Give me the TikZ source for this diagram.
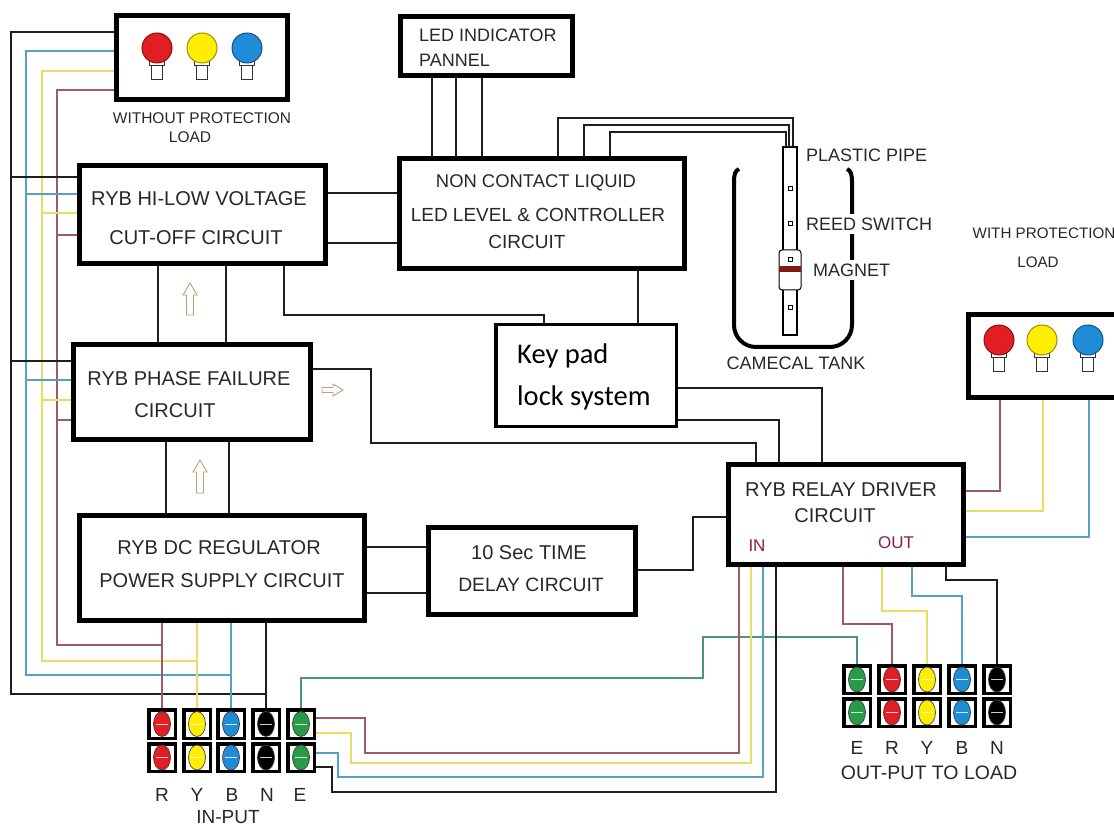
\documentclass[tikz,border=0pt]{standalone}
\usepackage{fontspec}
\setmainfont{Liberation Sans}
\newfontfamily\kpfont{Carlito}
\definecolor{tcol}{RGB}{40,40,40}
\definecolor{wred}{RGB}{160,90,100}
\definecolor{wyel}{RGB}{232,222,100}
\definecolor{wcyan}{RGB}{85,160,195}
\definecolor{wgreen}{RGB}{75,150,120}
\definecolor{wblk}{RGB}{30,30,30}
\definecolor{bred}{RGB}{225,30,35}
\definecolor{byel}{RGB}{255,238,0}
\definecolor{bblue}{RGB}{30,140,215}
\definecolor{tgreen}{RGB}{40,155,70}
\definecolor{arrcol}{RGB}{185,160,120}
\definecolor{magcol}{RGB}{130,25,25}
\definecolor{iocol}{RGB}{140,30,75}
\newcommand{\myfs}[1]{\fontsize{#1}{#1}\selectfont}
\newcommand{\bulb}[3]{%
  \draw[fill=white,draw=black!80,line width=0.8pt] ({#1-5.5},{#2+14}) rectangle ({#1+5.5},{#2+31});
  \draw[fill=white,draw=black!80,line width=0.8pt] ({#1-7.5},{#2+12}) rectangle ({#1+7.5},{#2+17});
  \draw[fill=#3,draw=#3!60!black,line width=1pt] (#1,#2) circle (15);}
\newcommand{\term}[4]{%
  \fill[black] ({#1-15},{#2-#4}) rectangle ({#1+15},{#2+#4});
  \fill[white] ({#1-11.5},{#2-#4+3.5}) rectangle ({#1+11.5},{#2+#4-3.5});
  \draw[fill=#3,draw=black!75,line width=0.7pt] (#1,#2) ellipse (8.5 and 12.5);
  \draw[white!80!#3,line width=0.9pt] ({#1-6},#2) -- ({#1+6},#2);}
\newcommand{\uparr}[3]{%
  \draw[arrcol,line width=0.9pt,fill=white] (#1,#2) -- ({#1+7},{#2+12}) -- ({#1+3.5},{#2+12}) -- ({#1+3.5},#3) -- ({#1-3.5},#3) -- ({#1-3.5},{#2+12}) -- ({#1-7},{#2+12}) -- cycle;}
\begin{document}
\begin{tikzpicture}[x=1pt,y=-1pt,
  box/.style={draw=black,line width=5pt,fill=white,rectangle,inner sep=0pt},
  lbl/.style={inner sep=0pt,text=tcol,font=\myfs{20}},
  slbl/.style={inner sep=0pt,text=tcol,font=\myfs{18}},
  tlbl/.style={inner sep=0pt,text=tcol,font=\myfs{15.5}},
  iolbl/.style={inner sep=0pt,text=iocol,font=\myfs{17}},
  wire/.style={line width=1.4pt}]
\useasboundingbox (0,0) rectangle (1114,826);
\fill[white] (0,0) rectangle (1114,826);

% ---------- boxes ----------
\node[box,minimum width=171,minimum height=84] (wpl) at (202,57.5) {};
\node[box,minimum width=172,minimum height=59] (led) at (486.5,46) {};
\node[box,minimum width=246,minimum height=98] (hilo) at (202.5,214.5) {};
\node[box,minimum width=285,minimum height=110] (ncl) at (542,213.5) {};
\node[box,minimum width=237,minimum height=95] (pf) at (192,392) {};
\node[box,minimum width=285,minimum height=105] (dcr) at (222,568) {};
\node[box,minimum width=207,minimum height=87] (tdl) at (532,571) {};
\node[box,minimum width=235,minimum height=100] (rly) at (846,514.5) {};
\node[box,minimum width=155,minimum height=83] (wp) at (1046,356) {};
\node[box,line width=3.5pt,minimum width=180.5,minimum height=101.5] (kp) at (586,375.5) {};

% ---------- bulbs ----------
\bulb{157}{48}{bred}
\bulb{202}{48}{byel}
\bulb{247}{48}{bblue}
\bulb{999}{340}{bred}
\bulb{1042}{340}{byel}
\bulb{1088}{340}{bblue}

% ---------- box texts ----------
\node[tlbl] (twpl1) at (202,118) {WITHOUT PROTECTION};
\node[tlbl] (twpl2) at (190,137) {LOAD};
\node[slbl,anchor=west] (tled1) at (419,35) {LED INDICATOR};
\node[slbl,anchor=west] (tled2) at (419,60) {PANNEL};
\node[lbl] (thilo1) at (199,199) {RYB HI-LOW VOLTAGE};
\node[lbl] (thilo2) at (196,238) {CUT-OFF CIRCUIT};
\node[lbl,font=\myfs{18.4}] (tncl1) at (536,183) {NON CONTACT LIQUID};
\node[lbl,font=\myfs{19}] (tncl2) at (538,215) {LED LEVEL \& CONTROLLER};
\node[lbl,font=\myfs{19}] (tncl3) at (527,242) {CIRCUIT};
\node[lbl] (tpf1) at (189,379) {RYB PHASE FAILURE};
\node[lbl] (tpf2) at (175,411) {CIRCUIT};
\node[lbl] (tdcr1) at (219,548) {RYB DC REGULATOR};
\node[lbl] (tdcr2) at (222,581) {POWER SUPPLY CIRCUIT};
\node[lbl] (ttdl1) at (529,553) {10 Sec TIME};
\node[lbl,font=\myfs{19.3}] (ttdl2) at (531,585) {DELAY CIRCUIT};
\node[lbl] (trly1) at (841,490) {RYB RELAY DRIVER};
\node[lbl] (trly2) at (835,516) {CIRCUIT};
\node[iolbl] (tin) at (757,546) {IN};
\node[iolbl] (tout) at (896,543) {OUT};
\node[inner sep=0pt,anchor=base west,font=\kpfont\myfs{28.5}] (tkp1) at (517,363) {Key pad};
\node[inner sep=0pt,anchor=base west,font=\kpfont\myfs{28.5}] (tkp2) at (517,405) {lock system};
\node[tlbl,font=\myfs{15.2}] (twp1) at (1044,233) {WITH PROTECTION};
\node[tlbl,font=\myfs{15.2}] (twp2) at (1038,262) {LOAD};

% ---------- tank, pipe ----------
\draw[line width=4pt,rounded corners=22pt] (734,182) -- (734,347) -- (852,347) -- (852,182);
\draw[line width=4pt] (734,183) .. controls (734,174) and (735,171) .. (739,169);
\draw[line width=4pt] (852,183) .. controls (852,174) and (851,171) .. (847,169);
\draw[fill=white,line width=1.1pt] (783,147) rectangle (797,335);
\foreach \yy in {188,223,307} {\draw[line width=0.8pt] (788,{\yy-2}) rectangle (792,{\yy+2});}
\draw[fill=white,line width=1pt,rounded corners=3pt] (779,250) rectangle (801,290);
\fill[magcol] (779,266) rectangle (801,272);
\draw[line width=0.8pt] (788,257) rectangle (792,261);
\node[slbl,anchor=west] (tpp) at (806,155) {PLASTIC PIPE};
\node[slbl,anchor=west,fill=white,inner sep=4pt] (trs) at (802,224) {REED SWITCH};
\node[slbl,anchor=west,fill=white,inner sep=4pt] (tmg) at (809,270) {MAGNET};
\node[slbl] (ttank) at (796,363) {CAMECAL TANK};

% ---------- hollow arrows ----------
\uparr{190}{283}{315}
\uparr{200}{460}{493}
\draw[arrcol,line width=0.9pt,fill=white] (343,390) -- (333,384) -- (333,387.5) -- (322,387.5) -- (322,392.5) -- (333,392.5) -- (333,396) -- cycle;

% ---------- black connectors ----------
\foreach \xx in {432,456,482} {\draw[wire,wblk] (led.south -| \xx,0) -- (ncl.north -| \xx,0);}
\draw[wire,wblk] (ncl.north -| 558,0) -- (558,118) -- (793,118) -- (793,147);
\draw[wire,wblk] (ncl.north -| 584,0) -- (584,125) -- (789,125) -- (789,147);
\draw[wire,wblk] (ncl.north -| 610,0) -- (610,132) -- (786,132) -- (786,147);
\draw[wire,wblk] (hilo.east |- 0,193) -- (ncl.west |- 0,193);
\draw[wire,wblk] (hilo.east |- 0,243) -- (ncl.west |- 0,243);
\draw[wire,wblk] (hilo.south -| 158,0) -- (pf.north -| 158,0);
\draw[wire,wblk] (hilo.south -| 226,0) -- (pf.north -| 226,0);
\draw[wire,wblk] (hilo.south -| 284,0) -- (284,315) -- (544,315) -- (kp.north -| 544,0);
\draw[wire,wblk] (ncl.south -| 638,0) -- (kp.north -| 638,0);
\draw[wire,wblk] (pf.south -| 166,0) -- (dcr.north -| 166,0);
\draw[wire,wblk] (pf.south -| 229,0) -- (dcr.north -| 229,0);
\draw[wire,wblk] (pf.east |- 0,369) -- (371,369) -- (371,443) -- (756,443) -- (rly.north -| 756,0);
\draw[wire,wblk] (kp.east |- 0,388) -- (822,388) -- (rly.north -| 822,0);
\draw[wire,wblk] (kp.east |- 0,420) -- (779,420) -- (rly.north -| 779,0);
\draw[wire,wblk] (dcr.east |- 0,547) -- (tdl.west |- 0,547);
\draw[wire,wblk] (dcr.east |- 0,593) -- (tdl.west |- 0,593);
\draw[wire,wblk] (tdl.east |- 0,570) -- (693,570) -- (693,517) -- (rly.west |- 0,517);

% ---------- left bundle ----------
\draw[wire,wblk] (wpl.west |- 0,32) -- (11,32) -- (11,694) -- (266,694);
\draw[wire,wcyan] (wpl.west |- 0,51) -- (26,51) -- (26,675) -- (231,675);
\draw[wire,wyel] (wpl.west |- 0,71) -- (42,71) -- (42,661) -- (197,661);
\draw[wire,wred] (wpl.west |- 0,90) -- (57,90) -- (57,645) -- (162,645);
\draw[wire,wblk] (11,177) -- (hilo.west |- 0,177);
\draw[wire,wcyan] (26,194) -- (hilo.west |- 0,194);
\draw[wire,wyel] (42,213) -- (hilo.west |- 0,213);
\draw[wire,wred] (57,235) -- (hilo.west |- 0,235);
\draw[wire,wblk] (11,361) -- (pf.west |- 0,361);
\draw[wire,wcyan] (26,380) -- (pf.west |- 0,380);
\draw[wire,wyel] (42,400) -- (pf.west |- 0,400);
\draw[wire,wred] (57,420) -- (pf.west |- 0,420);
\draw[wire,wred] (dcr.south -| 162,0) -- (162,708);
\draw[wire,wyel] (dcr.south -| 197,0) -- (197,708);
\draw[wire,wcyan] (dcr.south -| 231,0) -- (231,708);
\draw[wire,wblk] (dcr.south -| 266,0) -- (266,708);

% ---------- input E to relay / output ----------
\draw[wire,wgreen] (301,708) -- (301,678) -- (703,678) -- (703,637) -- (857,637) -- (857,664);
\draw[wire,wred] (316,718) -- (365,718) -- (365,753) -- (739,753) -- (rly.south -| 739,0);
\draw[wire,wyel] (316,733) -- (351,733) -- (351,763) -- (751,763) -- (rly.south -| 751,0);
\draw[wire,wcyan] (316,753) -- (338,753) -- (338,777) -- (763,777) -- (rly.south -| 763,0);
\draw[wire,wblk] (316,767) -- (332,767) -- (332,792) -- (776,792) -- (rly.south -| 776,0);

% ---------- relay outputs ----------
\draw[wire,wred] (rly.south -| 843,0) -- (843,624) -- (892,624) -- (892,664);
\draw[wire,wyel] (rly.south -| 882,0) -- (882,611) -- (927,611) -- (927,664);
\draw[wire,wcyan] (rly.south -| 912,0) -- (912,596) -- (962,596) -- (962,664);
\draw[wire,wblk] (rly.south -| 946,0) -- (946,580) -- (997,580) -- (997,664);
\draw[wire,wred] (rly.east |- 0,491) -- (1000,491) -- (wp.south -| 1000,0);
\draw[wire,wyel] (rly.east |- 0,511) -- (1043,511) -- (wp.south -| 1043,0);
\draw[wire,wcyan] (rly.east |- 0,537) -- (1089,537) -- (wp.south -| 1089,0);

% ---------- terminals ----------
\foreach \xx/\cc in {162/bred,197/byel,231/bblue,266/black,301/tgreen} {
  \term{\xx}{724}{\cc}{16}
  \term{\xx}{757.5}{\cc}{15.5}
}
\foreach \xx/\cc in {857/tgreen,892/bred,927/byel,962/bblue,997/black} {
  \term{\xx}{679.5}{\cc}{15.5}
  \term{\xx}{712.5}{\cc}{15.5}
}
\node[slbl,font=\myfs{19}] (iR) at (162,795) {R};
\node[slbl,font=\myfs{19}] (iY) at (197,795) {Y};
\node[slbl,font=\myfs{19}] (iB) at (232,795) {B};
\node[slbl,font=\myfs{19}] (iN) at (267,795) {N};
\node[slbl,font=\myfs{19}] (iE) at (300,795) {E};
\node[slbl,font=\myfs{19}] (tinput) at (228,817) {IN-PUT};
\node[slbl,font=\myfs{19}] (oE) at (857,748) {E};
\node[slbl,font=\myfs{19}] (oR) at (892,748) {R};
\node[slbl,font=\myfs{19}] (oY) at (927,748) {Y};
\node[slbl,font=\myfs{19}] (oB) at (962,748) {B};
\node[slbl,font=\myfs{19}] (oN) at (997,748) {N};
\node[slbl,font=\myfs{19.5}] (toutput) at (929,773) {OUT-PUT TO LOAD};
\end{tikzpicture}
\end{document}
